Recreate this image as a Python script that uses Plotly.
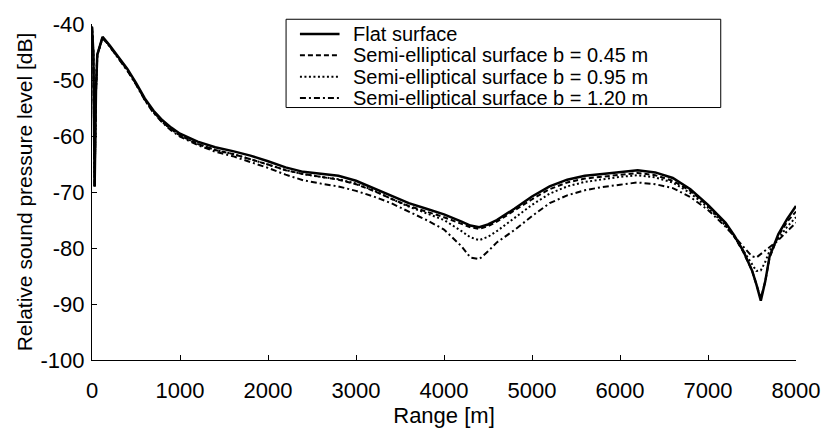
import plotly.graph_objects as go

# ---------------- data ----------------
range_m = [0, 15, 30, 45, 60, 80, 120, 200, 300, 400, 500, 600, 700, 800, 900,
           1000, 1200, 1400, 1600, 1800, 2000, 2200, 2400, 2600, 2800, 3000,
           3200, 3400, 3600, 3800, 4000, 4200, 4300, 4400, 4500, 4600, 4800,
           5000, 5200, 5400, 5600, 5800, 6000, 6200, 6400, 6600, 6800, 7000,
           7200, 7300, 7400, 7500, 7550, 7600, 7650, 7700, 7800, 7900, 8000]

flat = [-40.5, -45, -69, -52, -45.5, -44.5, -42.3, -43.8, -45.8, -48, -50.5, -53.3, -55.5, -57.2, -58.5,
        -59.6, -61, -62, -62.7, -63.5, -64.5, -65.6, -66.4, -66.8, -67.1, -68,
        -69.3, -70.7, -72, -73, -74, -75.3, -76, -76.3, -75.8, -75, -73,
        -70.8, -69, -67.8, -67.1, -66.8, -66.5, -66.1, -66.5, -67.5, -69.5, -72.3,
        -75.5, -77.8, -80.5, -84, -86.5, -89.4, -86, -81.5, -77.5, -74.8, -72.5]

b045 = [-40.5, -45, -69, -52, -45.5, -44.5, -42.4, -43.9, -46, -48.2, -50.7, -53.5, -55.7, -57.5, -58.8,
        -59.9, -61.4, -62.5, -63.2, -64.1, -65.1, -66.1, -66.8, -67.3, -67.8, -68.6,
        -69.8, -71.2, -72.5, -73.5, -74.5, -75.7, -76.3, -76.6, -76.1, -75.3, -73.3,
        -71.3, -69.5, -68.3, -67.6, -67.3, -67, -66.6, -67, -68, -69.8, -72.5,
        -75.7, -78, -80.7, -84, -86.5, -89, -86, -81.7, -77.8, -75.3, -73.5]

b095 = [-40.5, -45, -69, -52, -45.5, -44.5, -42.4, -44, -46, -48.2, -50.7, -53.5, -55.8, -57.5, -58.8,
        -59.9, -61.4, -62.5, -63.2, -64.1, -65.1, -66.1, -66.8, -67.3, -67.7, -68.5,
        -69.7, -71.2, -72.6, -73.8, -75, -77, -78.1, -78.6, -78, -77, -74.6,
        -72.3, -70.3, -69, -68.2, -67.7, -67.3, -67, -67.4, -68.3, -70.2, -72.8,
        -76, -78, -80.5, -83, -84.1, -84, -82.5, -80.5, -78.3, -76.2, -74.5]

b120 = [-40.5, -45, -69, -52, -45.5, -44.5, -42.5, -44, -46.1, -48.3, -50.8, -53.6, -55.9, -57.6, -59,
        -60.1, -61.6, -62.8, -63.6, -64.6, -65.7, -66.9, -67.9, -68.5, -69, -69.8,
        -70.8, -72, -73.5, -75, -76.7, -79.7, -81.7, -82, -80.6, -79, -76.8,
        -74.3, -72, -70.6, -69.7, -69.1, -68.7, -68.3, -68.6, -69.3, -70.9, -73.2,
        -76.2, -78, -79.9, -81.5, -81.7, -81.1, -80.4, -79.9, -78.6, -77, -75.5]

series_names = ["Flat surface",
                "Semi-elliptical surface b = 0.45 m",
                "Semi-elliptical surface b = 0.95 m",
                "Semi-elliptical surface b = 1.20 m"]
series_values = [flat, b045, b095, b120]

x_ticks = [0, 1000, 2000, 3000, 4000, 5000, 6000, 7000, 8000]
x_tick_text = ["0", "1000", "2000", "3000", "4000", "5000", "6000", "7000", "8000"]
y_ticks = [-100, -90, -80, -70, -60, -50, -40]
y_tick_text = ["-100", "-90", "-80", "-70", "-60", "-50", "-40"]

# ---------------- styles ----------------
dashes = ["solid", "5px,3px", "2px,2.5px", "6px,3px,2px,3px"]
widths = [2.5, 2, 2, 2]
FONT = "Liberation Sans, Arial, sans-serif"

W, H = 832, 431
L, R, T, B = 92, 29, 19, 58
PW, PH = W - L - R, H - T - B


def px(xp):
    return (xp - L) / PW


def py(yp):
    return (H - B - yp) / PH


fig = go.Figure()
for name, vals, d, w in zip(series_names, series_values, dashes, widths):
    fig.add_trace(go.Scatter(x=range_m, y=vals, mode="lines", name=name,
                             line=dict(color="black", dash=d, width=w),
                             showlegend=False))

# manual legend (box, line samples, labels)
shapes = [dict(type="rect", xref="paper", yref="paper",
               x0=px(288), x1=px(727), y0=py(107), y1=py(14),
               line=dict(color="black", width=1), fillcolor="white", layer="above")]
annotations = []
row_y = [29.5, 52, 74.5, 97]
for name, d, w, ry in zip(series_names, dashes, widths, row_y):
    shapes.append(dict(type="line", xref="paper", yref="paper",
                       x0=px(302), x1=px(342), y0=py(ry), y1=py(ry),
                       line=dict(color="black", dash=d, width=w), layer="above"))
    annotations.append(dict(xref="paper", yref="paper", x=px(355), y=py(ry),
                            xanchor="left", yanchor="middle", showarrow=False,
                            borderpad=0,
                            text=name, font=dict(family=FONT, size=20, color="black")))

axis_common = dict(showgrid=False, zeroline=False, showline=True, linecolor="black",
                   linewidth=1, ticks="inside", ticklen=5, tickcolor="black",
                   tickfont=dict(family=FONT, size=22, color="black"))

fig.update_layout(
    width=W, height=H,
    margin=dict(l=L, r=R, t=T, b=B),
    paper_bgcolor="white", plot_bgcolor="white",
    font=dict(family=FONT, size=22, color="black"),
    xaxis=dict(range=[0, 8000], tickvals=x_ticks, ticktext=x_tick_text,
               ticklabelstandoff=11,
               title=dict(text="Range [m]", standoff=0,
                          font=dict(family=FONT, size=22, color="black")),
               **axis_common),
    yaxis=dict(range=[-100, -40], tickvals=y_ticks, ticktext=y_tick_text,
               ticklabelstandoff=2,
               title=dict(text="Relative sound pressure level [dB]", standoff=2,
                          font=dict(family=FONT, size=21, color="black")),
               **axis_common),
    shapes=shapes, annotations=annotations,
)

fig.write_html("out.html")
